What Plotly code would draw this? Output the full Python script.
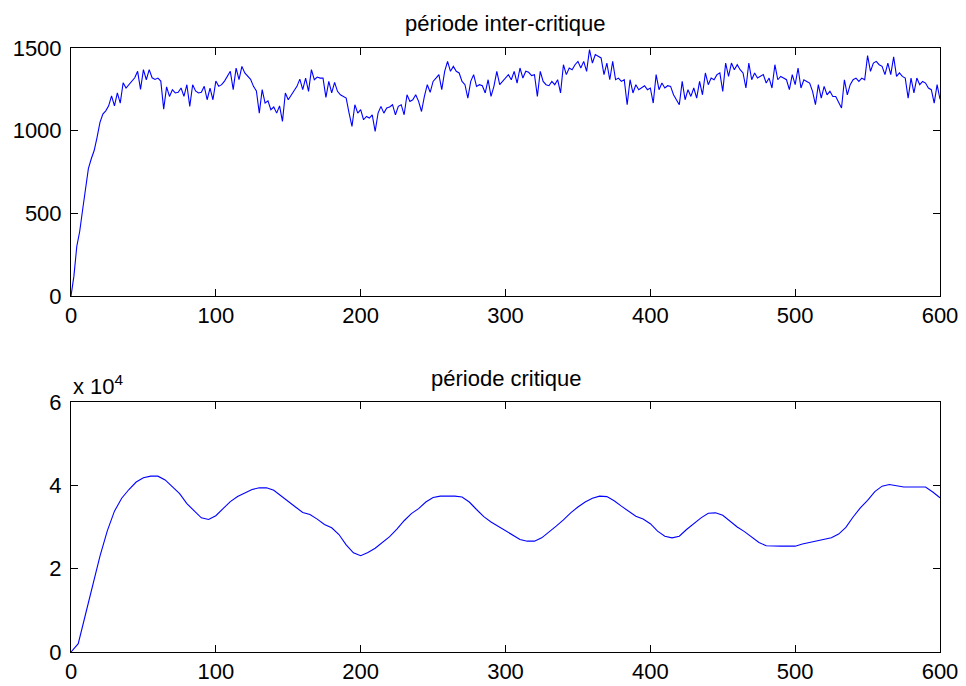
import plotly.graph_objects as go

# --- période inter-critique : une valeur tous les 2 pas ---
inter_x = list(range(0, 601, 2))
inter_y = [
    0, 120, 300, 390, 520, 650, 770, 830, 880, 960,
    1050, 1100, 1120, 1150, 1210, 1150, 1228, 1167, 1290, 1258,
    1278, 1298, 1320, 1359, 1250, 1369, 1308, 1369, 1320, 1310,
    1318, 1300, 1130, 1265, 1207, 1248, 1228, 1232, 1258, 1207,
    1278, 1147, 1278, 1240, 1228, 1232, 1268, 1187, 1258, 1187,
    1300, 1268, 1278, 1300, 1330, 1359, 1248, 1379, 1308, 1389,
    1349, 1330, 1310, 1268, 1240, 1106, 1248, 1167, 1180, 1127,
    1143, 1106, 1150, 1056, 1228, 1187, 1217, 1238, 1268, 1312,
    1248, 1318, 1238, 1369, 1308, 1324, 1318, 1318, 1201, 1298,
    1228, 1292, 1238, 1217, 1207, 1197, 1106, 1026, 1157, 1106,
    1127, 1066, 1086, 1076, 1096, 995, 1106, 1147, 1106, 1137,
    1143, 1157, 1096, 1147, 1157, 1096, 1217, 1177, 1187, 1217,
    1177, 1116, 1207, 1278, 1232, 1298, 1318, 1339, 1248, 1359,
    1419, 1359, 1389, 1359, 1349, 1298, 1278, 1197, 1298, 1339,
    1268, 1278, 1272, 1228, 1308, 1207, 1268, 1359, 1278, 1298,
    1318, 1339, 1308, 1359, 1288, 1379, 1318, 1359, 1353, 1333,
    1339, 1207, 1359, 1298, 1278, 1272, 1298, 1278, 1308, 1228,
    1399, 1339, 1379, 1369, 1399, 1419, 1379, 1419, 1359, 1490,
    1409, 1460, 1450, 1440, 1339, 1409, 1308, 1419, 1308, 1318,
    1298, 1308, 1157, 1308, 1228, 1278, 1248, 1258, 1272, 1248,
    1258, 1167, 1339, 1248, 1288, 1258, 1272, 1268, 1217, 1187,
    1157, 1298, 1187, 1248, 1207, 1258, 1197, 1298, 1217, 1349,
    1278, 1318, 1308, 1339, 1349, 1238, 1409, 1328, 1409, 1369,
    1399, 1369, 1349, 1258, 1409, 1308, 1349, 1318, 1328, 1339,
    1288, 1318, 1258, 1399, 1308, 1328, 1318, 1308, 1248, 1339,
    1278, 1379, 1258, 1308, 1298, 1288, 1238, 1157, 1278, 1197,
    1268, 1217, 1238, 1207, 1207, 1167, 1137, 1308, 1217, 1278,
    1308, 1318, 1298, 1318, 1308, 1454, 1359, 1409, 1419, 1399,
    1389, 1339, 1409, 1339, 1446, 1328, 1349, 1328, 1318, 1197,
    1318, 1228, 1318, 1278, 1298, 1288, 1258, 1248, 1167, 1278,
    1190,
]

# --- période critique : une valeur tous les 5 pas ---
crit_x = list(range(0, 601, 5))
crit_y = [
    0, 2000, 9000, 16000, 23000, 29000, 33800, 36900, 39000, 40800,
    41800, 42200, 42200, 41300, 39600, 38000, 35600, 33900, 32200, 31800,
    32700, 34400, 36100, 37300, 38200, 39000, 39400, 39400, 38800, 37400,
    36100, 34800, 33500, 33000, 31900, 30600, 29800, 28200, 25700, 23800,
    23100, 23900, 24900, 26300, 27700, 29500, 31500, 33200, 34400, 36000,
    37100, 37400, 37400, 37400, 37200, 36000, 34200, 32500, 31200, 30200,
    29100, 28000, 27000, 26600, 26600, 27400, 28700, 30200, 31700, 33400,
    34800, 36000, 36900, 37400, 37300, 36300, 35000, 33700, 32600, 31900,
    30800, 29000, 27800, 27400, 27800, 29400, 30900, 32200, 33300, 33400,
    32800, 31400, 30000, 28900, 27600, 26300, 25500, 25400, 25400, 25400,
    25400, 25900, 26300, 26700, 27000, 27400, 28300, 29900, 32400, 34600,
    36400, 38500, 39800, 40200, 39900, 39600, 39600, 39600, 39600, 38400,
    37000,
]

x_ticks = [0, 100, 200, 300, 400, 500, 600]
inter_ticks = [0, 500, 1000, 1500]
crit_ticks = [0, 20000, 40000, 60000]
crit_tick_text = ["0", "2", "4", "6"]

FONT = "Liberation Sans, Arial, sans-serif"
W, H = 966, 686
L, R, T, B = 71, 26, 48, 34
plot_h = H - T - B
top_dom = [(652 - 296) / plot_h, 1.0]
bot_dom = [0.0, (652 - 402) / plot_h]

fig = go.Figure()
fig.add_trace(go.Scatter(x=inter_x, y=inter_y, mode="lines",
                         line=dict(color="#0000ff", width=1.1),
                         xaxis="x", yaxis="y", showlegend=False))
fig.add_trace(go.Scatter(x=crit_x, y=crit_y, mode="lines",
                         line=dict(color="#0000ff", width=1.1),
                         xaxis="x2", yaxis="y2", showlegend=False))

axis_common = dict(showline=True, linecolor="black", linewidth=1,
                   mirror="ticks", ticks="inside", ticklen=7,
                   tickcolor="black", tickwidth=1, showgrid=False,
                   zeroline=False, automargin=False,
                   tickfont=dict(family=FONT, size=22, color="black"))

fig.update_layout(
    width=W, height=H,
    margin=dict(l=L, r=R, t=T, b=B),
    paper_bgcolor="white", plot_bgcolor="white",
    xaxis=dict(domain=[0, 1], range=[0, 600], tickvals=x_ticks,
               anchor="y", ticklabelstandoff=0, **axis_common),
    yaxis=dict(domain=top_dom, range=[0, 1500], tickvals=inter_ticks,
               anchor="x", ticklabelstandoff=4, **axis_common),
    xaxis2=dict(domain=[0, 1], range=[0, 600], tickvals=x_ticks,
                anchor="y2", ticklabelstandoff=0, **axis_common),
    yaxis2=dict(domain=bot_dom, range=[0, 60000], tickvals=crit_ticks,
                ticktext=crit_tick_text, anchor="x2", ticklabelstandoff=4,
                **axis_common),
    annotations=[
        dict(text="période inter-critique", xref="paper", yref="paper",
             x=0.5, y=top_dom[1], yshift=10, xanchor="center", yanchor="bottom",
             showarrow=False, font=dict(family=FONT, size=22, color="black")),
        dict(text="période critique", xref="paper", yref="paper",
             x=0.5, y=bot_dom[1], yshift=9, xanchor="center", yanchor="bottom",
             showarrow=False, font=dict(family=FONT, size=22, color="black")),
        dict(text="x 10<sup>4</sup>", xref="paper", yref="paper",
             x=0, y=bot_dom[1], yshift=1, xanchor="left", yanchor="bottom",
             showarrow=False, font=dict(family=FONT, size=22, color="black")),
    ],
)

fig.write_html("out.html")
